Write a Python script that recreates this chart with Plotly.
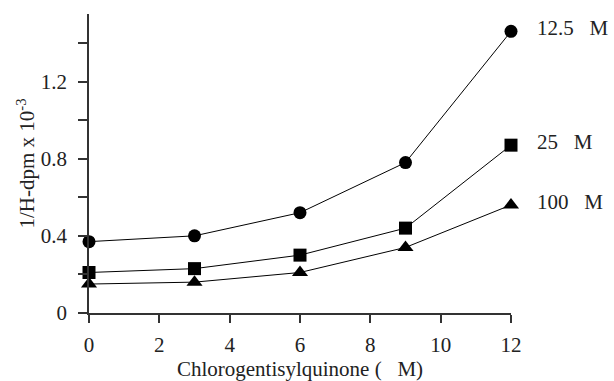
import plotly.graph_objects as go

conc = [0, 3, 6, 9, 12]
s125 = [0.37, 0.40, 0.52, 0.78, 1.46]
s25 = [0.21, 0.23, 0.30, 0.44, 0.87]
s100 = [0.15, 0.16, 0.21, 0.34, 0.56]
NB = "\u00a0"
series_names = ["12.5" + NB * 3 + "M", "25" + NB * 3 + "M", "100" + NB * 3 + "M"]
symbols = ["circle", "square", "triangle-up"]

FONT = "Liberation Serif, Times New Roman, serif"
FS = 21

fig = go.Figure()
for ys, sym, name in zip([s125, s25, s100], symbols, series_names):
    fig.add_trace(go.Scatter(
        x=conc, y=ys, mode="lines+markers", name=name,
        line=dict(color="black", width=1),
        marker=dict(symbol=sym, size=13 if sym != "triangle-up" else 14, color="black"),
        cliponaxis=False, showlegend=False,
    ))
    fig.add_annotation(x=conc[-1], y=ys[-1], text=name, showarrow=False,
                       xanchor="left", yanchor="middle", xshift=24, yshift=3,
                       font=dict(family=FONT, size=FS, color="#222"))

fig.update_layout(
    width=614, height=381,
    margin=dict(l=89, r=103, t=14, b=68),
    paper_bgcolor="white", plot_bgcolor="white",
    font=dict(family=FONT, size=FS, color="#222"),
    xaxis=dict(range=[0, 12], tickvals=[0, 2, 4, 6, 8, 10, 12], automargin=False,
               showline=True, linecolor="#333", linewidth=1.5,
               ticks="outside", ticklen=8, tickwidth=1.5, tickcolor="#333",
               tickfont=dict(family=FONT, size=FS, color="#222"), ticklabelstandoff=4,
               showgrid=False, zeroline=False,
               title=dict(text="Chlorogentisylquinone (" + NB * 3 + "M)", font=dict(size=FS), standoff=2)),
    yaxis=dict(range=[0, 1.55], tickvals=[0, 0.4, 0.8, 1.2], ticktext=["0", "0.4", "0.8", "1.2"],
               automargin=False,
               showline=True, linecolor="#333", linewidth=1.5,
               ticks="outside", ticklen=9, tickwidth=1.5, tickcolor="#333",
               tickfont=dict(family=FONT, size=FS, color="#222"), ticklabelstandoff=7,
               minor=dict(tickvals=[0.2, 0.6, 1.0, 1.4], ticks="outside", ticklen=9,
                          tickwidth=1.5, tickcolor="#333", showgrid=False),
               showgrid=False, zeroline=False,
               title=dict(text="1/H-dpm x 10<sup>-3</sup>", font=dict(size=FS), standoff=0)),
)

fig.write_html("out.html", config={"displayModeBar": False},
               post_script="document.body.style.margin='0';")
